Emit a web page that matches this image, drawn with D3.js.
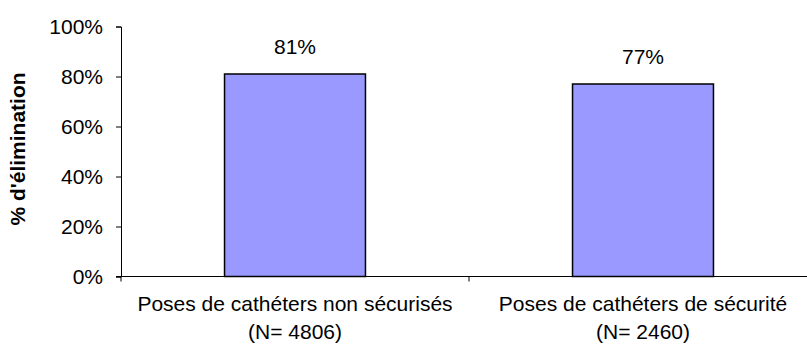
<!DOCTYPE html>
<html>
<head>
<meta charset="utf-8">
<script src="https://cdn.jsdelivr.net/npm/d3@7"></script>
<style>
  html, body { margin: 0; padding: 0; background: #fff; }
  svg { display: block; font-family: "Liberation Sans", Arial, sans-serif; }
</style>
</head>
<body>
<svg id="chart" width="807" height="347"></svg>
<script>
// Elimination rate by catheter type
const categories = ["Poses de cathéters non sécurisés", "Poses de cathéters de sécurité"];
const counts = ["(N= 4806)", "(N= 2460)"];
const values = [81, 77];
const yTicks = [0, 20, 40, 60, 80, 100];
const yTitle = "% d'élimination";

const svg = d3.select("#chart");
const fontSize = 21;

const x0 = 121, x1 = 817, yBase = 276.5, yTop = 26.5;

const x = d3.scaleBand()
  .domain(categories)
  .range([x0, x1])
  .paddingInner(0.595)
  .paddingOuter(0.2975);

const y = d3.scaleLinear().domain([0, 100]).range([yBase, yTop]);

// Bars
svg.append("g").selectAll("rect")
  .data(values)
  .join("rect")
  .attr("x", (d, i) => x(categories[i]))
  .attr("y", d => y(d))
  .attr("width", x.bandwidth())
  .attr("height", d => y(0) - y(d))
  .attr("fill", "#9999FF")
  .attr("stroke", "#000")
  .attr("stroke-width", 1.5);

// Value labels
svg.append("g").selectAll("text")
  .data(values)
  .join("text")
  .attr("x", (d, i) => x(categories[i]) + x.bandwidth() / 2)
  .attr("y", d => y(d) - 20)
  .attr("text-anchor", "middle")
  .attr("font-size", fontSize)
  .attr("fill", "#000")
  .text(d => d + "%");

// Y axis
const yAxis = d3.axisLeft(y)
  .tickValues(yTicks)
  .tickFormat(d => d + "%")
  .tickSize(5)
  .tickPadding(13);
const gy = svg.append("g").attr("transform", `translate(${x0},0)`).call(yAxis);
gy.select(".domain").attr("stroke", "#000").attr("stroke-width", 1);
gy.selectAll(".tick line").attr("stroke", "#000");
gy.selectAll(".tick text")
  .attr("font-size", fontSize)
  .attr("font-family", "Liberation Sans, Arial, sans-serif")
  .attr("fill", "#000");

// X axis: ticks sit on the band boundaries
const boundaries = [x0, (x0 + x1) / 2, x1];
const gx = svg.append("g");
gx.append("line")
  .attr("x1", x0 - 5).attr("x2", x1)
  .attr("y1", yBase).attr("y2", yBase)
  .attr("stroke", "#000").attr("stroke-width", 1);
gx.selectAll("line.tk")
  .data(boundaries)
  .join("line")
  .attr("class", "tk")
  .attr("x1", d => d).attr("x2", d => d)
  .attr("y1", yBase).attr("y2", yBase + 5)
  .attr("stroke", "#000");

// Category labels (two lines)
const catG = svg.append("g").selectAll("text")
  .data(categories)
  .join("text")
  .attr("text-anchor", "middle")
  .attr("font-size", fontSize)
  .attr("fill", "#000");
catG.append("tspan")
  .attr("x", d => x(d) + x.bandwidth() / 2)
  .attr("y", 311)
  .text(d => d);
catG.append("tspan")
  .attr("x", d => x(d) + x.bandwidth() / 2)
  .attr("y", 339)
  .text((d, i) => counts[i]);

// Y axis title
svg.append("text")
  .attr("transform", `translate(25,149) rotate(-90)`)
  .attr("text-anchor", "middle")
  .attr("font-size", fontSize)
  .attr("font-weight", "bold")
  .attr("fill", "#000")
  .text(yTitle);
</script>
</body>
</html>
